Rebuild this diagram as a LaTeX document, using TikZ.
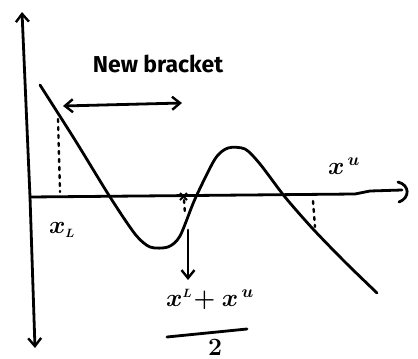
\documentclass[tikz,border=0pt]{standalone}
\usepackage{fontspec}
\setsansfont{Fira Sans}
\usetikzlibrary{arrows.meta}
\tikzset{
  ink/.style={line width=2.8pt, line cap=round, line join=round},
  dots/.style={line width=2.4pt, dash pattern=on 3pt off 5pt, line cap=round},
  hb/.tip={Straight Barb[length=8pt,width=13pt,line width=2.4pt]},
  barb/.style={-hb},
  lbl/.style={font=\sffamily\bfseries\fontsize{23}{23}\selectfont, inner sep=0pt},
  mlbl/.style={font=\boldmath\fontsize{26}{26}\selectfont, inner sep=0pt}
}
\begin{document}
\begin{tikzpicture}[x=1pt,y=-1pt]
\useasboundingbox (0,0) rectangle (418,359);
% axes
\coordinate (o) at (30,197);
\coordinate (ytop) at (22,12);
\coordinate (ybot) at (35,348);
\coordinate (xend) at (402,190);
\draw[ink,barb] (o) -- (ytop);
\draw[ink,barb] (o) -- (ybot);
\draw[ink] (o) -- (355,194) -- (370,191) -- (xend);
\draw[ink] (398,182) .. controls (410,185) and (410,198) .. (399,202);
% curve
\draw[ink] plot[smooth,tension=0.45] coordinates {(40,85) (75,140) (110,197) (135,234) (150,247) (168,247) (180,236) (195,199) (215,159) (228,148) (245,149) (260,164) (285,197) (313,229) (345,262) (377,293)};
% dotted verticals
\coordinate (d1t) at (58,119);
\coordinate (d1b) at (60,192);
\draw[dots] (d1t) -- (d1b);
\coordinate (d2t) at (184,200);
\coordinate (d2b) at (185,214);
\draw[dots] (d2t) -- (d2b);
\draw[line width=1.8pt] (180,193) -- (187,200) (187,193) -- (180,200);
\coordinate (d3t) at (313,201);
\coordinate (d3b) at (315,227);
\draw[dots] (d3t) -- (d3b);
% bracket arrow
\coordinate (ba) at (63,106);
\coordinate (bb) at (182,103);
\draw[ink,hb-hb] (ba) -- (bb);
\node[lbl] (nb) at (158,64) {New bracket};
% midpoint arrow
\coordinate (ma) at (188,230);
\coordinate (mb) at (188,280);
\draw[ink,barb] (ma) -- (mb);
% labels
\node[mlbl] (xl) at (62,230) {$x_{\scriptscriptstyle L}$};
\node[mlbl] (xu) at (344,166) {$x^{\,u}$};
\node[mlbl] (num) at (210,299) {$x^{\scriptscriptstyle L}\!+x^{\,u}$};
\coordinate (fa) at (167,337);
\coordinate (fb) at (247,329);
\draw[ink] (fa) -- (fb);
\node[mlbl,anchor=base] (den) at (215,355) {$2$};
\end{tikzpicture}
\end{document}
